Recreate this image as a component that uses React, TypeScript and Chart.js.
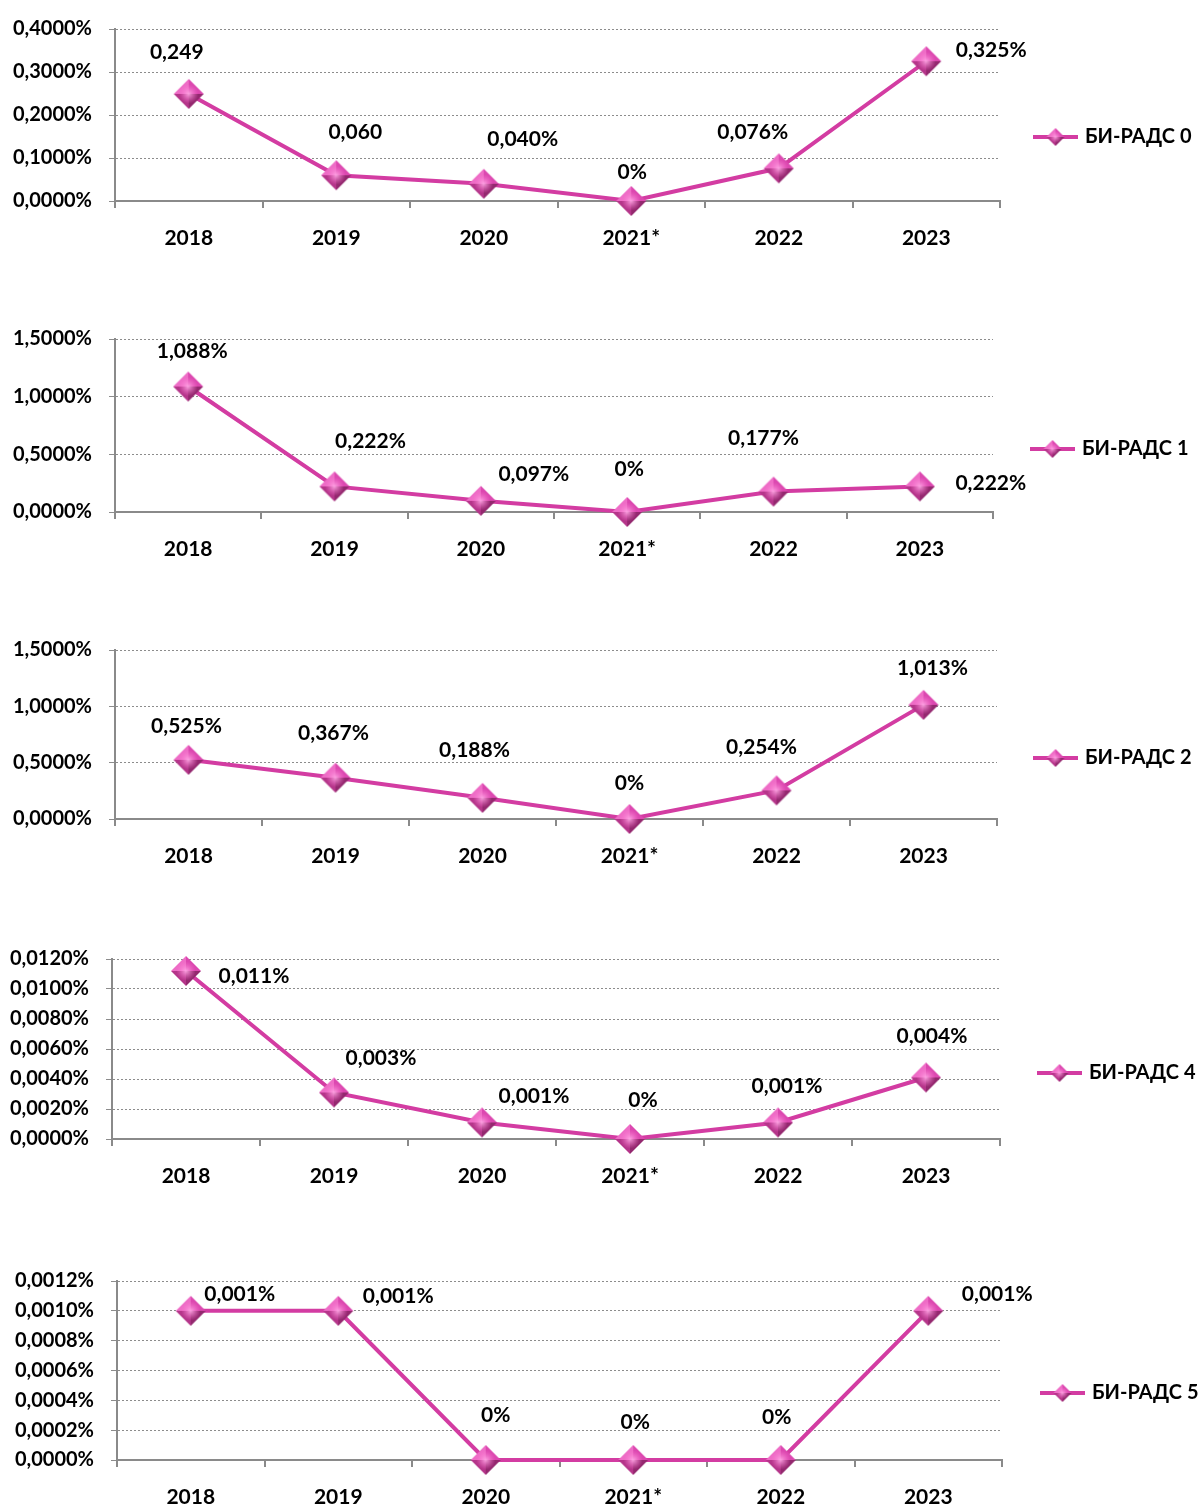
import React, { useEffect, useRef } from "react";
import { Chart, registerables } from "chart.js";

Chart.register(...registerables);

// Categories shared by every panel
const years = ["2018", "2019", "2020", "2021*", "2022", "2023"];

// Share of each BI-RADS category per year, in percent
const birads0 = [0.249, 0.06, 0.04, 0, 0.076, 0.325];
const birads1 = [1.088, 0.222, 0.097, 0, 0.177, 0.222];
const birads2 = [0.525, 0.367, 0.188, 0, 0.254, 1.013];
const birads4 = [0.0112, 0.0031, 0.0011, 0, 0.0011, 0.0041];
const birads5 = [0.001, 0.001, 0, 0, 0, 0.001];

const seriesNames = ["БИ-РАДС 0", "БИ-РАДС 1", "БИ-РАДС 2", "БИ-РАДС 4", "БИ-РАДС 5"];

// Value axis ranges (percent)
const axisMax = [0.4, 1.5, 1.5, 0.012, 0.0012];
const axisStep = [0.1, 0.5, 0.5, 0.002, 0.0002];

// Whether a point label carries the percent sign
const pctSign0 = [false, false, true, true, true, true];
const pctSignAll = [true, true, true, true, true, true];

const LINE = "#d33ca2";
const FONT = "Lato, 'Noto Sans', 'DejaVu Sans', sans-serif";

// Placement of each panel on the page
type Panel = {
  values: number[];
  name: string;
  max: number;
  step: number;
  pct: boolean[];
  top: number;
  height: number;
  areaTop: number;
  areaBottom: number;
  areaLeft: number;
  areaRight: number;
  legendX: number;
  legendY: number;
  labelDx: number[];
  labelDy: number[];
};

const panels: Panel[] = [
  {
    values: birads0, name: seriesNames[0], max: axisMax[0], step: axisStep[0], pct: pctSign0,
    top: 0, height: 270, areaTop: 24, areaBottom: 201, areaLeft: 115, areaRight: 1000,
    legendX: 1033, legendY: 137,
    labelDx: [-12, 19, 39, 1, -26, 65],
    labelDy: [-42, -43, -45, -29, -36, -11],
  },
  {
    values: birads1, name: seriesNames[1], max: axisMax[1], step: axisStep[1], pct: pctSignAll,
    top: 300, height: 275, areaTop: 339, areaBottom: 512, areaLeft: 115, areaRight: 993,
    legendX: 1030, legendY: 449,
    labelDx: [4, 36, 53, 2, -10, 71],
    labelDy: [-35, -45, -27, -43, -53, -3],
  },
  {
    values: birads2, name: seriesNames[2], max: axisMax[2], step: axisStep[2], pct: pctSignAll,
    top: 620, height: 270, areaTop: 650, areaBottom: 819, areaLeft: 115, areaRight: 997,
    legendX: 1033, legendY: 758,
    labelDx: [-2, -2, -8, 0, -15, 9],
    labelDy: [-34, -44, -48, -36, -43, -37],
  },
  {
    values: birads4, name: seriesNames[3], max: axisMax[3], step: axisStep[3], pct: pctSignAll,
    top: 930, height: 270, areaTop: 958, areaBottom: 1139, areaLeft: 112, areaRight: 1000,
    legendX: 1037, legendY: 1073,
    labelDx: [68, 47, 52, 13, 9, 6],
    labelDy: [5, -34, -26, -39, -36, -41],
  },
  {
    values: birads5, name: seriesNames[4], max: axisMax[4], step: axisStep[4], pct: pctSignAll,
    top: 1250, height: 258, areaTop: 1281, areaBottom: 1460, areaLeft: 117, areaRight: 1002,
    legendX: 1040, legendY: 1393,
    labelDx: [49, 60, 10, 2, -4, 69],
    labelDy: [-17, -15, -45, -38, -43, -17],
  },
];

// Bevelled pink diamond used as the point marker
function makeDiamond(size: number): HTMLCanvasElement {
  const c = document.createElement("canvas");
  c.width = size;
  c.height = size;
  const g = c.getContext("2d")!;
  const m = size / 2;
  const e = 1;
  const T = [m, e], R = [size - e, m], B = [m, size - e], L = [e, m], C = [m, m];
  const face = (a: number[], b: number[], col: string) => {
    g.beginPath();
    g.moveTo(a[0], a[1]);
    g.lineTo(b[0], b[1]);
    g.lineTo(C[0], C[1]);
    g.closePath();
    g.fillStyle = col;
    g.fill();
  };
  face(L, T, "#ee6cc6");
  face(T, R, "#dc48b0");
  face(R, B, "#94286f");
  face(B, L, "#b5358a");
  const rg = g.createRadialGradient(m, m, 0, m, m, size * 0.3);
  rg.addColorStop(0, "rgba(255,170,230,0.9)");
  rg.addColorStop(1, "rgba(255,120,210,0)");
  g.fillStyle = rg;
  g.beginPath();
  g.moveTo(T[0], T[1]);
  g.lineTo(R[0], R[1]);
  g.lineTo(B[0], B[1]);
  g.lineTo(L[0], L[1]);
  g.closePath();
  g.fill();
  return c;
}

function fmtLabel(v: number, pct: boolean): string {
  if (v === 0) return "0%";
  return v.toFixed(3).replace(".", ",") + (pct ? "%" : "");
}

function fmtTick(v: number): string {
  return Number(v).toFixed(4).replace(".", ",") + "%";
}

function PanelChart({ p }: { p: Panel }) {
  const ref = useRef<HTMLCanvasElement | null>(null);

  useEffect(() => {
    const canvas = ref.current!;
    const marker = makeDiamond(32);
    const smallMarker = makeDiamond(20);

    const pointLabels = {
      id: "pointLabels",
      afterDatasetsDraw(chart: any) {
        const ctx = chart.ctx;
        const meta = chart.getDatasetMeta(0);
        ctx.save();
        ctx.font = `bold 21px ${FONT}`;
        ctx.fillStyle = "#000";
        ctx.textAlign = "center";
        ctx.textBaseline = "middle";
        meta.data.forEach((pt: any, i: number) => {
          ctx.fillText(fmtLabel(p.values[i], p.pct[i]), pt.x + p.labelDx[i], pt.y + p.labelDy[i]);
        });
        ctx.restore();
      },
    };

    const sideLegend = {
      id: "sideLegend",
      afterDraw(chart: any) {
        const ctx = chart.ctx;
        const y = p.legendY - p.top;
        const x = p.legendX;
        ctx.save();
        ctx.strokeStyle = LINE;
        ctx.lineWidth = 4;
        ctx.beginPath();
        ctx.moveTo(x, y);
        ctx.lineTo(x + 45, y);
        ctx.stroke();
        ctx.drawImage(smallMarker, x + 22.5 - 10, y - 10);
        ctx.font = `bold 20px ${FONT}`;
        ctx.fillStyle = "#000";
        ctx.textAlign = "left";
        ctx.textBaseline = "middle";
        ctx.fillText(p.name, x + 52, y);
        ctx.restore();
      },
    };

    const chart = new Chart(canvas, {
      type: "line",
      data: {
        labels: years,
        datasets: [
          {
            label: p.name,
            data: p.values,
            borderColor: LINE,
            borderWidth: 4,
            pointStyle: marker as any,
            pointRadius: 16,
            pointHoverRadius: 16,
            tension: 0,
            clip: false as any,
          },
        ],
      },
      options: {
        responsive: false,
        animation: false,
        events: [],
        layout: {
          padding: {
            top: p.areaTop - p.top,
            right: 1201 - p.areaRight,
            left: 0,
            bottom: 0,
          },
        },
        plugins: {
          legend: { display: false },
          tooltip: { enabled: false },
        },
        scales: {
          x: {
            offset: true,
            afterFit(scale: any) {
              scale.height = p.top + p.height - p.areaBottom;
            },
            grid: {
              display: true,
              offset: true,
              drawOnChartArea: false,
              drawTicks: true,
              tickLength: 7,
              color: "#8a8a8a",
              lineWidth: 2,
            },
            border: { display: true, color: "#8a8a8a", width: 2 },
            ticks: {
              color: "#000",
              font: { family: FONT, size: 21, weight: "bold" },
              padding: 18,
              maxRotation: 0,
            },
          },
          y: {
            min: 0,
            max: p.max,
            afterFit(scale: any) {
              scale.width = p.areaLeft;
            },
            grid: {
              display: true,
              color: "#8c8c8c",
              lineWidth: 1,
              drawTicks: true,
              tickLength: 6,
            },
            border: { display: true, color: "#8a8a8a", width: 2, dash: [2, 2] },
            ticks: {
              stepSize: p.step,
              color: "#000",
              font: { family: FONT, size: 20, weight: "bold" },
              padding: 17,
              callback: (v: any) => fmtTick(Number(v)),
            },
          },
        },
      } as any,
      plugins: [pointLabels, sideLegend],
    });

    return () => chart.destroy();
  }, [p]);

  return (
    <canvas
      ref={ref}
      width={1201}
      height={p.height}
      style={{ position: "absolute", left: 0, top: p.top, width: 1201, height: p.height, display: "block" }}
    />
  );
}

export default function App() {
  return (
    <div style={{ position: "absolute", left: 0, top: 0, width: 1201, height: 1508, background: "#fff" }}>
      {panels.map((p) => (
        <PanelChart key={p.name} p={p} />
      ))}
    </div>
  );
}
